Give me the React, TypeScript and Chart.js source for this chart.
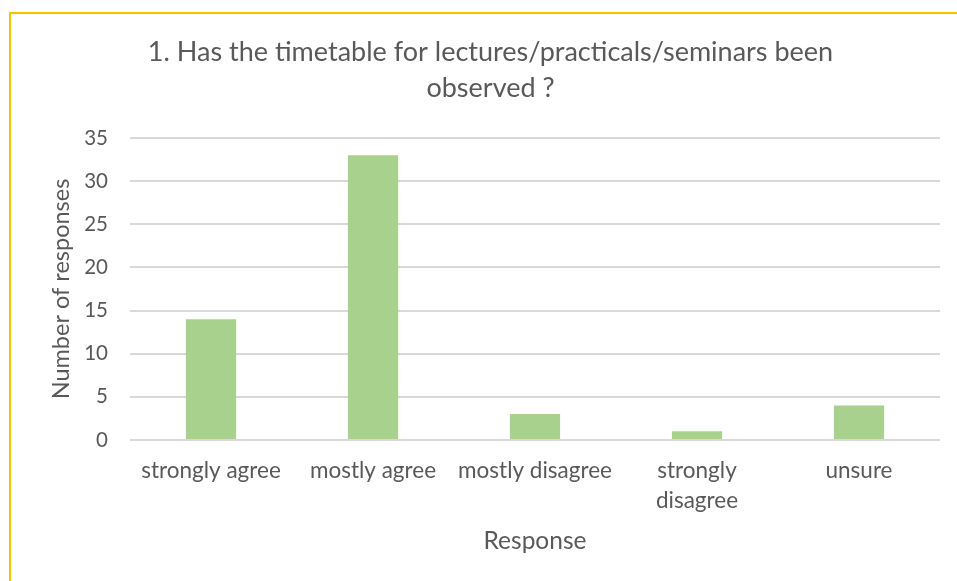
import React, { useEffect, useRef } from "react";
import { Chart, registerables } from "chart.js";

Chart.register(...registerables);

const categories: (string | string[])[] = [
  "strongly agree",
  "mostly agree",
  "mostly disagree",
  ["strongly", "disagree"],
  "unsure",
];
const responses: number[] = [14, 33, 3, 1, 4];
const titleLines: string[] = [
  "1. Has the timetable for lectures/practicals/seminars been",
  "observed ?",
];
const xAxisTitle = "Response";
const yAxisTitle = "Number of responses";

const FONT = "Lato, 'Open Sans', sans-serif";
const TEXT = "#595959";
const GRID = "#D9D9D9";
const BAR = "#A9D18E";

export default function App() {
  const ref = useRef<HTMLCanvasElement | null>(null);

  useEffect(() => {
    if (!ref.current) return;
    const chart = new Chart(ref.current, {
      type: "bar",
      data: {
        labels: categories,
        datasets: [
          {
            data: responses,
            backgroundColor: BAR,
            borderWidth: 0,
            barPercentage: 0.31,
            categoryPercentage: 1,
          },
        ],
      },
      options: {
        animation: false,
        responsive: false,
        maintainAspectRatio: false,
        layout: { padding: { left: 30, right: 29, top: 10, bottom: 18 } },
        plugins: {
          legend: { display: false },
          tooltip: { enabled: false },
          title: {
            display: true,
            text: titleLines,
            color: TEXT,
            font: { family: FONT, size: 27, weight: "normal", lineHeight: 1.333 },
            padding: { top: 10, bottom: 32 },
          },
        },
        scales: {
          x: {
            grid: { display: false, drawTicks: false },
            border: { display: false },
            ticks: {
              color: TEXT,
              font: { family: FONT, size: 22.5, lineHeight: 1.333 },
              padding: 16,
              maxRotation: 0,
              autoSkip: false,
            },
            title: {
              display: true,
              text: xAxisTitle,
              color: TEXT,
              font: { family: FONT, size: 24.5, lineHeight: 1.2 },
              padding: { top: 13, bottom: 7 },
            },
            afterFit: (scale: any) => {
              scale.height = 123;
            },
          },
          y: {
            min: 0,
            max: 35,
            grid: { color: GRID, lineWidth: 2, drawTicks: false },
            border: { display: false },
            ticks: {
              stepSize: 5,
              color: TEXT,
              font: { family: FONT, size: 20.5 },
              padding: 22,
            },
            title: {
              display: true,
              text: yAxisTitle,
              color: TEXT,
              font: { family: FONT, size: 23.5, lineHeight: 1.2 },
              padding: { top: 6, bottom: 0 },
            },
            afterFit: (scale: any) => {
              scale.width = 89;
            },
          },
        },
      },
    });
    return () => chart.destroy();
  }, []);

  return (
    <div
      style={{
        position: "fixed",
        left: 0,
        top: 0,
        width: 957,
        height: 581,
        overflow: "hidden",
        background: "#fff",
      }}
    >
      <div
        style={{
          position: "absolute",
          left: 9,
          top: 12,
          width: 960,
          height: 600,
          borderTop: "2px solid #FFC000",
          borderLeft: "2px solid #FFC000",
        }}
      >
        <canvas ref={ref} width={958} height={567} style={{ display: "block" }} />
      </div>
    </div>
  );
}
